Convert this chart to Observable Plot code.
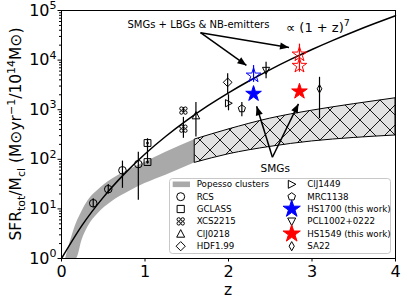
<!DOCTYPE html>
<html><head><meta charset="utf-8">
<script src="https://cdn.jsdelivr.net/npm/d3@7"></script>
<script src="https://cdn.jsdelivr.net/npm/@observablehq/plot@0.6"></script>
<style>
body{margin:0;background:#fff;}
#wrap{position:relative;width:407px;height:298px;}
</style></head>
<body><div id="wrap"></div>
<script>
// ---------- data ----------
const xTicks = [0, 1, 2, 3, 4];
const yMajor = [1, 10, 100, 1000, 10000, 100000];
const yTickExp = ["0", "1", "2", "3", "4", "5"];

// Popesso band [z, lower, upper]
const bandZ     = [0.05, 0.18, 0.245, 0.32, 0.44, 0.6, 0.8, 1.0, 1.25, 1.6, 2.0, 2.5, 3.0, 3.5, 4.0];
const bandLower = [1, 1, 2.3, 4.4, 8.1, 13.8, 21.9, 32.4, 47.9, 85, 126, 178, 229, 269, 302];
const bandUpper = [1, 5.2, 8.9, 14.8, 24, 39, 60, 87, 138, 251, 398, 661, 955, 1290, 1700];
const bandSplitZ = 1.6;

// (1+z)^7 reference curve
const lawZ = [0, 0.25, 0.5, 0.75, 1, 1.25, 1.5, 1.75, 2, 2.25, 2.5, 2.75, 3, 3.25, 3.5, 3.75, 4];
const lawV = [1, 4.768, 17.09, 50.27, 128, 291.9, 610.4, 1189.4, 2187, 3829.9, 6433.9, 10428.4, 16384, 25045, 37367, 54557, 78125];

// clusters: [z, value, errLow, errHigh]
const rcs     = [[0.38, 13, 10.5, 16], [0.56, 25, 20, 31], [0.73, 60, 26, 92], [0.92, 80, 15, 139]];
const gclass  = [[1.03, 213, 170, 260], [1.03, 88, 80, 213]];
const xcs2215 = [[1.46, 960, 870, 1100], [1.46, 415, 265, 700]];
const clj0218 = [[1.61, 760, 280, 1400]];
const hdf199  = [[1.99, 3560, 2000, 5300]];
const clj1449 = [[2.00, 1350, 950, 2000]];
const mrc1138 = [[2.16, 1050, 720, 1400]];
const hs1700Open = [[2.30, 4900, 3560, 7760]];
const hs1700 = [[2.30, 2090]];
const pcl1002 = [[2.45, 6200, 4200, 9100]];
const hs1549Open = [[2.85, 13000, 9500, 21000], [2.85, 7700, 5700, 9500]];
const hs1549 = [[2.85, 2330]];
const sa22 = [[3.09, 2640, 660, 4500]];

// annotations (data coordinates)
const notes = [
  {z: 1.64, v: 51600, text: "SMGs + LBGs & NB-emitters", size: 10},
  {z: 3.07, v: 45000, text: "∝ (1 + z)^7", size: 13},
  {z: 2.56, v: 64, text: "SMGs", size: 10.5}
];
const arrows = [
  {z1: 1.665, v1: 35700, z2: 2.215, v2: 7800},
  {z1: 1.665, v1: 35700, z2: 2.725, v2: 18000},
  {z1: 2.526, v1: 110, z2: 2.337, v2: 1175},
  {z1: 2.526, v1: 110, z2: 2.838, v2: 1315}
];

const legendCol1 = ["Popesso clusters", "RCS", "GCLASS", "XCS2215", "ClJ0218", "HDF1.99"];
const legendCol2 = ["ClJ1449", "MRC1138", "HS1700 (this work)", "PCL1002+0222", "HS1549 (this work)", "SA22"];

// ---------- symbols ----------
function poly(pts) {
  return {draw(ctx, size) {
    const r = Math.sqrt(size / Math.PI);
    ctx.moveTo(pts[0][0] * r, pts[0][1] * r);
    for (let i = 1; i < pts.length; i++) ctx.lineTo(pts[i][0] * r, pts[i][1] * r);
    ctx.closePath();
  }};
}
const symSquare = poly([[-0.9, -0.9], [0.9, -0.9], [0.9, 0.9], [-0.9, 0.9]]);
const symTriUp = poly([[0, -1.05], [1.0, 0.85], [-1.0, 0.85]]);
const symTriDown = poly([[0, 1.05], [-1.0, -0.85], [1.0, -0.85]]);
const symTriRight = poly([[1.05, 0], [-0.85, -1.0], [-0.85, 1.0]]);
const symDiamond = poly([[0, -1.15], [1.15, 0], [0, 1.15], [-1.15, 0]]);
const symThinDiamond = poly([[0, -1.15], [0.65, 0], [0, 1.15], [-0.65, 0]]);
const symPentagon = poly(d3.range(5).map(k => [Math.cos(-Math.PI / 2 + k * 2 * Math.PI / 5), Math.sin(-Math.PI / 2 + k * 2 * Math.PI / 5)]));
const symQuatre = {draw(ctx, size) {
  const r = Math.sqrt(size / Math.PI), rr = r * 0.42, o = r * 0.5;
  for (const [sx, sy] of [[-1, -1], [1, -1], [1, 1], [-1, 1]]) {
    ctx.moveTo(sx * o + rr, sy * o);
    ctx.arc(sx * o, sy * o, rr, 0, 2 * Math.PI);
  }
}};

// ---------- build rows ----------
const band = bandZ.map((z, i) => ({z, lo: bandLower[i], hi: bandUpper[i]}));
const grayBand = band.filter(d => d.z <= bandSplitZ);
const hatchBand = band.filter(d => d.z >= bandSplitZ);
const law = lawZ.map((z, i) => ({z, v: lawV[i]}));
const rows = a => a.map(([z, v, lo, hi]) => ({z, v, lo, hi}));

function series(arr, symbol, opts = {}) {
  const data = rows(arr);
  const color = opts.color || "black";
  const m = [];
  if (arr[0].length > 2) m.push(Plot.ruleX(data, {x: "z", y1: "lo", y2: "hi", stroke: color, strokeWidth: 1.2}));
  m.push(Plot.dot(data, {x: "z", y: "v", symbol, r: opts.r || 4, fill: opts.fill || "none", stroke: opts.stroke || color, strokeWidth: opts.sw || 1}));
  return m;
}

const chart = Plot.plot({
  width: 407, height: 298,
  marginLeft: 61, marginRight: 12, marginTop: 10, marginBottom: 40,
  style: {fontFamily: "DejaVu Sans", fontSize: "16px", color: "black", background: "white"},
  x: {domain: [0, 4], label: null},
  y: {type: "log", domain: [1, 1e5], label: null},
  marks: [
    Plot.areaY(grayBand, {x: "z", y1: "lo", y2: "hi", fill: "#a9a9a9", curve: "monotone-x"}),
    Plot.areaY(hatchBand, {x: "z", y1: "lo", y2: "hi", fill: "url(#xhatch)", stroke: "black", strokeWidth: 1, curve: "monotone-x"}),
    Plot.line(law, {x: "z", y: "v", stroke: "black", strokeWidth: 1.5, curve: "monotone-x"}),
    ...series(rcs, "circle", {r: 3.8}),
    ...series(gclass, symSquare, {r: 3.8}),
    Plot.dot(rows(gclass), {x: "z", y: "v", r: 1.3, fill: "black"}),
    ...series(xcs2215, symQuatre, {r: 4}),
    ...series(clj0218, symTriUp, {r: 3.8}),
    ...series(hdf199, symDiamond, {r: 3.8}),
    ...series(clj1449, symTriRight, {r: 3.6}),
    ...series(mrc1138, symPentagon, {r: 3.8}),
    ...series(pcl1002, symTriDown, {r: 3.6}),
    ...series(sa22, symThinDiamond, {r: 3.6}),
    ...series(hs1700Open, "star", {r: 4.6, color: "blue"}),
    ...series(hs1549Open, "star", {r: 4.6, color: "red"}),
    ...series(hs1700, "star", {r: 4.9, fill: "blue", stroke: "blue"}),
    ...series(hs1549, "star", {r: 4.9, fill: "red", stroke: "red"}),
    Plot.link(arrows, {x1: "z1", y1: "v1", x2: "z2", y2: "v2", stroke: "black", strokeWidth: 1.5, markerEnd: "arrow"}),
    Plot.text(notes, {x: "z", y: "v", text: "text", fontSize: d => d.size, fill: "black", fontFamily: "DejaVu Sans"}),
    Plot.axisX({ticks: xTicks, tickSize: 3.5, tickPadding: 3.5, fontSize: 16, tickFormat: d => String(d), label: null}),
    Plot.axisY({ticks: yMajor, tickSize: 3.5, tickPadding: 1.5, fontSize: 16, tickFormat: d => "10^" + yTickExp[yMajor.indexOf(d)], label: null}),
    Plot.axisY({ticks: d3.scaleLog().domain([1, 1e5]).ticks().filter(t => !yMajor.includes(t)), tickSize: 2, tickFormat: () => "", label: null}),
    Plot.frame({stroke: "black", strokeWidth: 1})
  ]
});
document.getElementById("wrap").appendChild(chart);

// ---------- post-processing ----------
const svg = d3.select(chart);
const defs = svg.insert("defs", ":first-child");
const pat = defs.append("pattern").attr("id", "xhatch").attr("patternUnits", "userSpaceOnUse").attr("width", 20).attr("height", 20);
pat.append("rect").attr("width", 20).attr("height", 20).attr("fill", "#e2e2e2");
pat.append("path").attr("d", "M-5,-5L25,25M25,-5L-5,25").attr("stroke", "black").attr("stroke-width", 0.9);

// "base^exp" texts -> base + superscript tspan
svg.selectAll("text").each(function () {
  const t = this.textContent;
  const m = /^(.*)\^(\d+)$/.exec(t);
  if (!m) return;
  const s = d3.select(this);
  const big = m[1].startsWith("10");
  s.text(null);
  s.append("tspan").text(m[1]);
  s.append("tspan").attr("dy", big ? -6.5 : -5.5).attr("font-size", big ? 11 : 9.5).text(m[2]);
});

// filled arrow heads
svg.selectAll("marker").each(function () {
  const m = d3.select(this);
  m.attr("viewBox", "-10 -5 10 10").attr("markerWidth", 10).attr("markerHeight", 10)
   .attr("markerUnits", "userSpaceOnUse").attr("fill", "black").attr("stroke", "none");
  m.selectAll("*").remove();
  m.append("path").attr("d", "M-9,-3.6L0,0L-9,3.6Z");
});

// y label with sub/superscripts
const yl = svg.append("text").attr("transform", "translate(21,134) rotate(-90)")
  .attr("text-anchor", "middle").attr("font-family", "DejaVu Sans").attr("font-size", 15.5).attr("fill", "black");
const parts = [["SFR", 0], ["tot", 3.5], ["/M", 0], ["cl", 3.5], [" (M⊙yr", 0], ["−1", -6], ["/10", 0], ["14", -6], ["M⊙)", 0]];
let cur = 0;
for (const [t, off] of parts) {
  const ts = yl.append("tspan").attr("dy", off - cur).text(t);
  if (off !== 0) ts.attr("font-size", 11);
  cur = off;
}
// x label
svg.append("text").attr("x", 228).attr("y", 295).attr("text-anchor", "middle")
  .attr("font-family", "DejaVu Sans").attr("font-size", 15.5).attr("fill", "black").text("z");

// legend
const lg = svg.append("g").attr("font-family", "DejaVu Sans").attr("font-size", 8.7).attr("text-anchor", "start");
lg.append("rect").attr("x", 169.5).attr("y", 178.5).attr("width", 221).attr("height", 75)
  .attr("rx", 3).attr("fill", "white").attr("fill-opacity", 0.85).attr("stroke", "#c8c8c8");
const rowY = [184.3, 196.7, 209, 221.4, 233.8, 246.2];
const col1Sym = [null, d3.symbolCircle, symSquare, symQuatre, symTriUp, symDiamond];
const col2Sym = [symTriRight, symPentagon, d3.symbolStar, symTriDown, d3.symbolStar, symThinDiamond];
const col2Style = [{}, {}, {fill: "blue", stroke: "blue", size: 92}, {}, {fill: "red", stroke: "red", size: 92}, {}];
legendCol1.forEach((t, i) => {
  if (i === 0) {
    lg.append("rect").attr("x", 172.7).attr("y", rowY[i] - 2.8).attr("width", 17.3).attr("height", 5.6).attr("fill", "#a9a9a9");
  } else {
    lg.append("path").attr("transform", `translate(180.7,${rowY[i]})`)
      .attr("d", d3.symbol(col1Sym[i], Math.PI * 16)()).attr("fill", "none").attr("stroke", "black").attr("stroke-width", 1);
  }
  lg.append("text").attr("x", 196.7).attr("y", rowY[i]).attr("dy", "0.35em").attr("text-anchor", "start").attr("fill", "black").text(t);
});
legendCol2.forEach((t, i) => {
  const s = col2Style[i];
  lg.append("path").attr("transform", `translate(291.7,${rowY[i]})`)
    .attr("d", d3.symbol(col2Sym[i], s.size || Math.PI * 16)()).attr("fill", s.fill || "none").attr("stroke", s.stroke || "black").attr("stroke-width", 1);
  lg.append("text").attr("x", 307.3).attr("y", rowY[i]).attr("dy", "0.35em").attr("text-anchor", "start").attr("fill", "black").text(t);
});
</script>
</body></html>
